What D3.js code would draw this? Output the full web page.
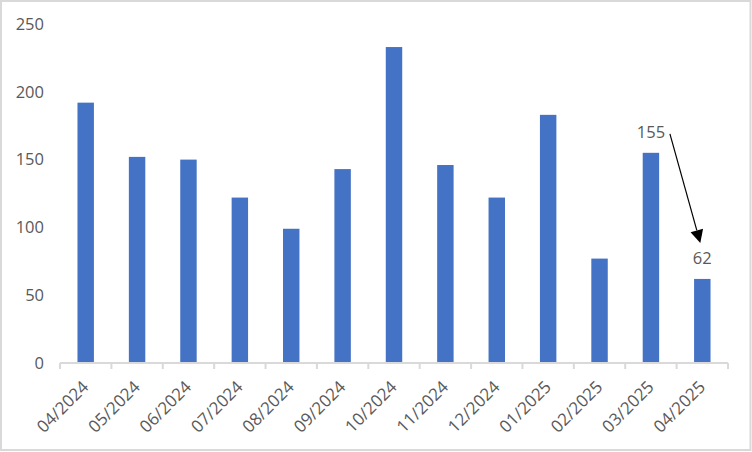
<!DOCTYPE html>
<html>
<head>
<meta charset="utf-8">
<script src="https://cdn.jsdelivr.net/npm/d3@7"></script>
<style>
  html, body { margin: 0; padding: 0; background: #fff; }
  svg { display: block; }
  text { font-family: "Open Sans", "Liberation Sans", Arial, sans-serif; fill: #595959; }
</style>
</head>
<body>
<svg id="chart" width="752" height="452"></svg>
<script>
const categories = ["04/2024","05/2024","06/2024","07/2024","08/2024","09/2024","10/2024","11/2024","12/2024","01/2025","02/2025","03/2025","04/2025"];
const values = [192, 152, 150, 122, 99, 143, 233, 146, 122, 183, 77, 155, 62];
const yTicks = [0, 50, 100, 150, 200, 250];
const labeledCategories = ["03/2025", "04/2025"];

const FONT = "Open Sans, Liberation Sans, Arial, sans-serif";
const FS = "16.5px";

const svg = d3.select("#chart");
const W = 752, H = 452;
const margin = { left: 60, right: 24, top: 24, bottom: 89 };

svg.append("rect")
  .attr("x", 1).attr("y", 1).attr("width", W - 2.5).attr("height", H - 3)
  .attr("fill", "#fff").attr("stroke", "#d9d9d9").attr("stroke-width", 2);

const x = d3.scaleBand()
  .domain(categories)
  .range([margin.left, W - margin.right])
  .paddingInner(0.68).paddingOuter(0.34);

const y = d3.scaleLinear()
  .domain([0, 250])
  .range([H - margin.bottom, margin.top]);

// bars
svg.append("g").selectAll("rect")
  .data(categories)
  .join("rect")
  .attr("x", d => x(d))
  .attr("width", x.bandwidth())
  .attr("y", (d, i) => y(values[i]))
  .attr("height", (d, i) => y(0) - y(values[i]))
  .attr("fill", "#4472C4");

// y axis labels
const yAxis = d3.axisLeft(y).tickValues(yTicks).tickSize(0).tickPadding(0);
const gy = svg.append("g").attr("transform", `translate(${margin.left - 16},0)`).call(yAxis);
gy.select(".domain").remove();
gy.selectAll("text").attr("font-size", FS).attr("fill", "#595959")
  .attr("font-family", FONT);

// x axis
const step = x.step();
const xAxisG = svg.append("g").attr("transform", `translate(0,${y(0)})`);
xAxisG.append("line")
  .attr("x1", margin.left).attr("x2", W - margin.right)
  .attr("y1", 0).attr("y2", 0)
  .attr("stroke", "#d9d9d9").attr("stroke-width", 2);
const boundaries = d3.range(categories.length + 1).map(i => margin.left + i * step);
xAxisG.selectAll("line.tick")
  .data(boundaries)
  .join("line")
  .attr("class", "tick")
  .attr("x1", d => d).attr("x2", d => d)
  .attr("y1", 0).attr("y2", 6)
  .attr("stroke", "#d9d9d9").attr("stroke-width", 2);
xAxisG.selectAll("text")
  .data(categories)
  .join("text")
  .attr("transform", d => `translate(${x(d) + x.bandwidth() / 2 + 4},${25}) rotate(-45)`)
  .attr("text-anchor", "end")
  .attr("font-size", "17px")
  .text(d => d);

// data labels
labeledCategories.forEach(c => {
  const i = categories.indexOf(c);
  svg.append("text")
    .attr("x", x(c) + x.bandwidth() / 2)
    .attr("y", y(values[i]) - 15)
    .attr("text-anchor", "middle")
    .attr("font-size", FS)
    .text(values[i]);
});

// arrow annotation from 155 label to 62 label
const iA = categories.indexOf("03/2025"), iB = categories.indexOf("04/2025");
const x0 = x(categories[iA]) + x.bandwidth() / 2 + 19, y0 = y(values[iA]) - 19;
const x1 = x(categories[iB]) + x.bandwidth() / 2 - 2, y1 = y(values[iB]) - 36;
const ang = Math.atan2(y1 - y0, x1 - x0);
const headLen = 13, headHalf = 6.5;
const bx = x1 - headLen * Math.cos(ang), by = y1 - headLen * Math.sin(ang);
svg.append("line")
  .attr("x1", x0).attr("y1", y0).attr("x2", bx).attr("y2", by)
  .attr("stroke", "#000").attr("stroke-width", 1.2);
const px = -Math.sin(ang), py = Math.cos(ang);
svg.append("polygon")
  .attr("points", [
    [x1, y1],
    [bx + headHalf * px, by + headHalf * py],
    [bx - headHalf * px, by - headHalf * py]
  ].map(p => p.join(",")).join(" "))
  .attr("fill", "#000");
</script>
</body>
</html>
